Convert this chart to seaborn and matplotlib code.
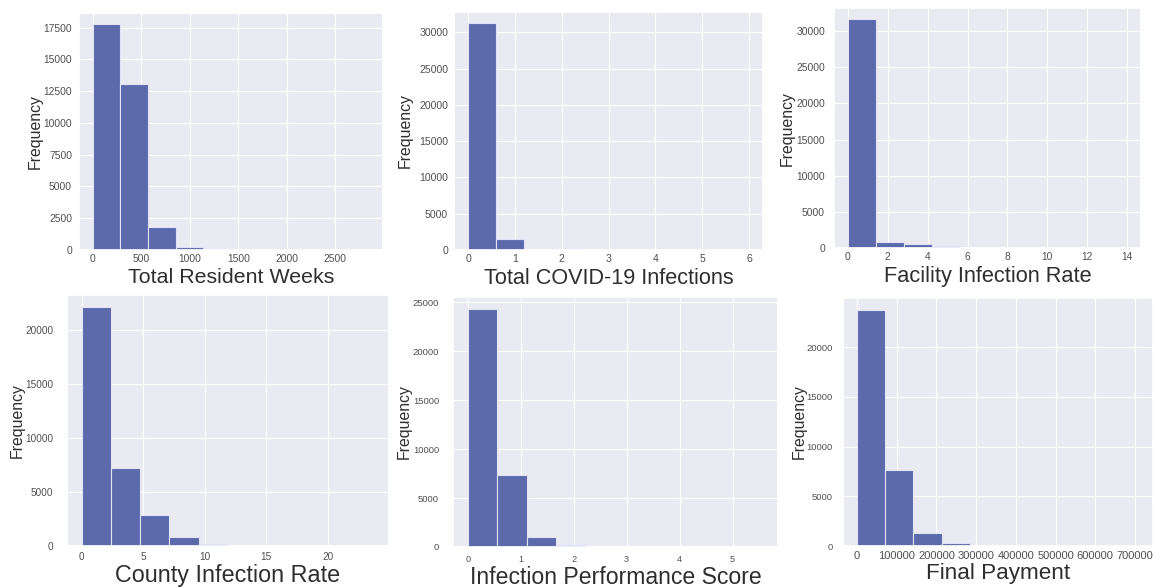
import numpy as np
import pandas as pd
import matplotlib
matplotlib.use("Agg")
import matplotlib.pyplot as plt
import matplotlib.ticker as mticker
import seaborn as sns

# Binned frequencies (10 equal-width bins over each variable's range)
resident_weeks_range = (0, 2850)
resident_weeks_counts = [17760, 13030, 1840, 265, 55, 20, 8, 4, 2, 1]

covid_infections_range = (0, 6)
covid_infections_counts = [31250, 1480, 0, 150, 0, 20, 0, 5, 0, 3]

facility_rate_range = (0, 14)
facility_rate_counts = [31620, 785, 600, 320, 80, 25, 10, 5, 3, 2]

county_rate_range = (0, 23.8)
county_rate_counts = [22160, 7250, 2870, 800, 200, 40, 10, 4, 2, 1]

performance_score_range = (0, 5.58)
performance_score_counts = [24320, 7340, 1025, 170, 30, 10, 5, 3, 2, 1]

final_payment_range = (0, 710000)
final_payment_counts = [23750, 7650, 1290, 270, 40, 12, 5, 3, 2, 1]

titles = [
    "Total Resident Weeks",
    "Total COVID-19 Infections",
    "Facility Infection Rate",
    "County Infection Rate",
    "Infection Performance Score",
    "Final Payment",
]

sns.set_theme(style="darkgrid", rc={"grid.linewidth": 0.8})
plt.rcParams["font.family"] = ["Liberation Sans", "DejaVu Sans"]

W, H = 1155, 587
fig = plt.figure(figsize=(W / 100, H / 100), dpi=100)

# axes boxes in pixels: left, top, right, bottom
boxes = [
    (79, 13, 383, 250),
    (454, 12, 763, 250),
    (834, 8, 1141, 248),
    (67, 295, 389, 546),
    (453, 297, 778, 547),
    (843, 298, 1153, 546),
]

# range, counts, x tick step, y tick step, x/y tick font size,
# x/y tick pad, xlabel size, xlabel pad, ylabel pad
panels = [
    (resident_weeks_range, resident_weeks_counts, 500, 2500, 7.4, 7.4, 3.0, 5.0, 15.4, 3.0, 0.7),
    (covid_infections_range, covid_infections_counts, 1, 5000, 7.6, 7.6, 3.0, 4.3, 15.6, 3.0, 4.3),
    (facility_rate_range, facility_rate_counts, 2, 5000, 7.4, 7.4, 3.0, 6.5, 15.7, 3.0, 1.4),
    (county_rate_range, county_rate_counts, 5, 5000, 7.2, 7.2, 4.0, 10.0, 16.8, 1.6, 0.5),
    (performance_score_range, performance_score_counts, 1, 5000, 6.6, 6.8, 5.5, 10.0, 16.6, 1.6, 1.0),
    (final_payment_range, final_payment_counts, 100000, 5000, 8.0, 6.8, 3.5, 7.2, 16.2, 1.6, 0.2),
]

bar_color = "#5c6aac"

for box, spec, title in zip(boxes, panels, titles):
    rng, counts, xstep, ystep, xfs, yfs, xpad, ypad, lfs, xlp, ylp = spec
    l, t, r, b = box
    ax = fig.add_axes([l / W, 1 - b / H, (r - l) / W, (b - t) / H])
    edges = np.linspace(rng[0], rng[1], len(counts) + 1)
    binned = pd.DataFrame({
        "value": (edges[:-1] + edges[1:]) / 2,
        "count": np.asarray(counts, dtype=float),
    })
    sns.histplot(
        data=binned, x="value", weights="count", bins=list(edges), ax=ax,
        color=bar_color, edgecolor="#dfe3f5", linewidth=0.8, alpha=1,
    )
    ax.xaxis.set_major_locator(mticker.MultipleLocator(xstep))
    ax.yaxis.set_major_locator(mticker.MultipleLocator(ystep))
    fmt = mticker.ScalarFormatter(useOffset=False)
    fmt.set_scientific(False)
    ax.xaxis.set_major_formatter(fmt)
    ax.set_xlim(rng[0] - 0.05 * (rng[1] - rng[0]), rng[1] + 0.05 * (rng[1] - rng[0]))
    ax.set_ylim(0, max(counts) * 1.05)
    ax.tick_params(axis="x", length=0, labelsize=xfs, labelcolor="#505050", pad=xpad)
    ax.tick_params(axis="y", length=0, labelsize=yfs, labelcolor="#505050", pad=ypad)
    ax.set_xlabel(title, fontsize=lfs, color="#2e2e2e", labelpad=xlp)
    ax.set_ylabel("Frequency", fontsize=11.4, color="#2e2e2e", labelpad=ylp)

fig.savefig("out.png", dpi=100)
